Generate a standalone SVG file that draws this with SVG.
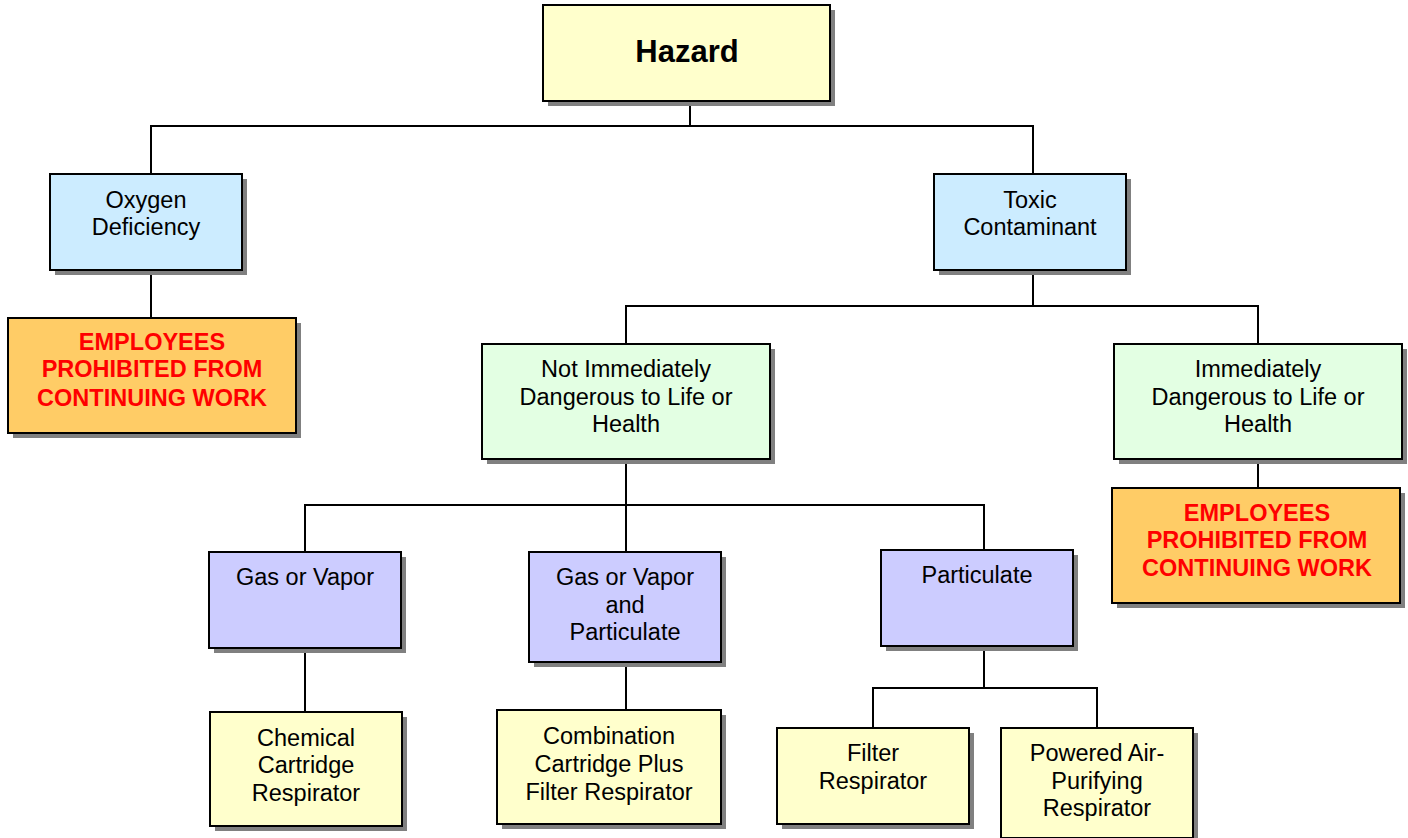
<svg xmlns="http://www.w3.org/2000/svg" width="1408" height="838" viewBox="0 0 1408 838">
<style>
.sh{fill:#808080}
.bx{stroke:#000;stroke-width:2}
.y{fill:#FFFFCC}.b{fill:#CCECFF}.g{fill:#E3FFE3}.o{fill:#FFCC66}.p{fill:#CCCCFF}
text{font-family:"Liberation Sans",Arial,sans-serif;font-size:23.5px;fill:#000;text-anchor:middle}
.t{font-size:31px;font-weight:bold}
.r{fill:#FF0000;font-weight:bold;font-size:23.5px}
.c{fill:none;stroke:#000;stroke-width:2}
</style>
<rect width="1408" height="838" fill="#fff"/>
<g id="connectors">
<path class="c" d="M690 101V126M151 174V126H1033V174"/>
<path class="c" d="M151 270V318"/>
<path class="c" d="M1033 270V306M626 344V306H1258V344"/>
<path class="c" d="M626 459V552M305 552V505H984V550"/>
<path class="c" d="M1258 459V488"/>
<path class="c" d="M305 648V712"/>
<path class="c" d="M626 662V710"/>
<path class="c" d="M984 646V688M873 728V688H1097V728"/>
</g>
<g id="hazard"><rect class="sh" x="548" y="10" width="287" height="96"/><rect class="bx y" x="543" y="5" width="287" height="96"/><text class="t" x="687" y="62">Hazard</text></g>
<g id="oxygen"><rect class="sh" x="55" y="179" width="192" height="96"/><rect class="bx b" x="50" y="174" width="192" height="96"/><text x="146" y="208">Oxygen</text><text x="146" y="235">Deficiency</text></g>
<g id="emp1"><rect class="sh" x="13" y="323" width="288" height="115"/><rect class="bx o" x="8" y="318" width="288" height="115"/><text class="r" x="152" y="350">EMPLOYEES</text><text class="r" x="152" y="377">PROHIBITED FROM</text><text class="r" x="152" y="406">CONTINUING WORK</text></g>
<g id="toxic"><rect class="sh" x="939" y="179" width="192" height="96"/><rect class="bx b" x="934" y="174" width="192" height="96"/><text x="1030" y="208">Toxic</text><text x="1030" y="235">Contaminant</text></g>
<g id="notidlh"><rect class="sh" x="487" y="349" width="288" height="115"/><rect class="bx g" x="482" y="344" width="288" height="115"/><text x="626" y="377">Not Immediately</text><text x="626" y="405">Dangerous to Life or</text><text x="626" y="432">Health</text></g>
<g id="idlh"><rect class="sh" x="1119" y="349" width="288" height="115"/><rect class="bx g" x="1114" y="344" width="288" height="115"/><text x="1258" y="377">Immediately</text><text x="1258" y="405">Dangerous to Life or</text><text x="1258" y="432">Health</text></g>
<g id="emp2"><rect class="sh" x="1117" y="493" width="288" height="115"/><rect class="bx o" x="1112" y="488" width="288" height="115"/><text class="r" x="1257" y="521">EMPLOYEES</text><text class="r" x="1257" y="548">PROHIBITED FROM</text><text class="r" x="1257" y="576">CONTINUING WORK</text></g>
<g id="gas"><rect class="sh" x="214" y="557" width="192" height="96"/><rect class="bx p" x="209" y="552" width="192" height="96"/><text x="305" y="585">Gas or Vapor</text></g>
<g id="gasp"><rect class="sh" x="534" y="557" width="192" height="110"/><rect class="bx p" x="529" y="552" width="192" height="110"/><text x="625" y="585">Gas or Vapor</text><text x="625" y="613">and</text><text x="625" y="640">Particulate</text></g>
<g id="part"><rect class="sh" x="886" y="555" width="192" height="96"/><rect class="bx p" x="881" y="550" width="192" height="96"/><text x="977" y="583">Particulate</text></g>
<g id="chem"><rect class="sh" x="215" y="717" width="192" height="114"/><rect class="bx y" x="210" y="712" width="192" height="114"/><text x="306" y="746">Chemical</text><text x="306" y="773">Cartridge</text><text x="306" y="801">Respirator</text></g>
<g id="comb"><rect class="sh" x="502" y="715" width="224" height="114"/><rect class="bx y" x="497" y="710" width="224" height="114"/><text x="609" y="744">Combination</text><text x="609" y="772">Cartridge Plus</text><text x="609" y="800">Filter Respirator</text></g>
<g id="filter"><rect class="sh" x="782" y="733" width="192" height="96"/><rect class="bx y" x="777" y="728" width="192" height="96"/><text x="873" y="761">Filter</text><text x="873" y="789">Respirator</text></g>
<g id="papr"><rect class="sh" x="1006" y="733" width="192" height="110"/><rect class="bx y" x="1001" y="728" width="192" height="110"/><text x="1097" y="761">Powered Air-</text><text x="1097" y="789">Purifying</text><text x="1097" y="816">Respirator</text></g>
</svg>
